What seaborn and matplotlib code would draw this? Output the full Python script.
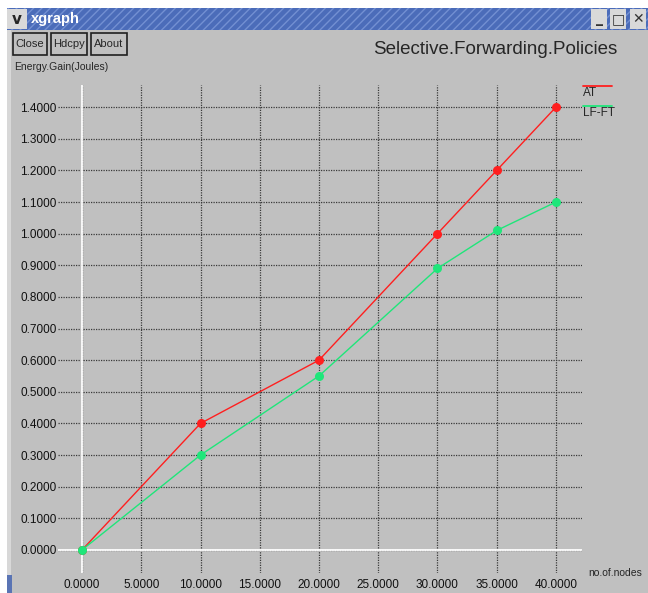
import numpy as np
import pandas as pd
import matplotlib
matplotlib.use("Agg")
import matplotlib.pyplot as plt
from matplotlib.patches import Rectangle
from matplotlib.lines import Line2D
import seaborn as sns

# values
nodes = [0, 10, 20, 30, 35, 40]
gain_at = [0.0, 0.40, 0.60, 1.00, 1.20, 1.40]
gain_lfft = [0.0, 0.30, 0.55, 0.89, 1.01, 1.10]
series_names = ["AT", "LF-FT"]
series_colors = ["#ff1f1f", "#1fe67a"]
x_ticks = [0, 5, 10, 15, 20, 25, 30, 35, 40]
y_ticks = [round(0.1 * i, 1) for i in range(15)]

df = pd.DataFrame({
    "nodes": nodes * 2,
    "gain": gain_at + gain_lfft,
    "policy": [series_names[0]] * len(nodes) + [series_names[1]] * len(nodes),
})

sns.set_style("white")
plt.rcParams["font.family"] = ["Liberation Sans", "DejaVu Sans"]

W, H = 648, 593
fig = plt.figure(figsize=(W / 100, H / 100), dpi=100)
fig.patch.set_facecolor("white")


def fx(x):
    return x / W


def fy(y):
    return 1 - y / H


def box(x0, y0, x1, y1, **kw):
    fig.patches.append(Rectangle((fx(x0), fy(y1)), fx(x1) - fx(x0), fy(y0) - fy(y1),
                                 transform=fig.transFigure, **kw))


# window frame
box(7, 8, 648, 593, facecolor="#c0c0c0", edgecolor="none", zorder=-5)
box(7, 8, 11, 593, facecolor="#d8d8d8", edgecolor="none", zorder=-4)
box(7, 575, 12, 593, facecolor="#5a74b4", edgecolor="none", zorder=-4)
# title bar
box(7, 8, 648, 30, facecolor="#4b6cb9", edgecolor="#7390d2", hatch="////", linewidth=0, zorder=1)
box(7, 9, 27, 29, facecolor="#d9d9d9", edgecolor="none", zorder=2)
fig.text(fx(17), fy(19), "v", ha="center", va="center", fontsize=11, fontweight="bold",
         family="DejaVu Sans", zorder=3)
fig.text(fx(31), fy(19), "xgraph", ha="left", va="center", fontsize=10.5, fontweight="bold",
         color="white", zorder=3)
for x0, glyph in [(591, "_"), (610, "□"), (630, "✕")]:
    box(x0, 9, x0 + 16, 29, facecolor="#d9d9d9", edgecolor="none", zorder=2)
    fig.text(fx(x0 + 8), fy(19), glyph, ha="center", va="center", fontsize=10,
             fontweight="bold", family="DejaVu Sans", color="#333333", zorder=3)

# xgraph buttons
for x0, x1, label in [(13, 47, "Close"), (51, 87, "Hdcpy"), (91, 127, "About")]:
    box(x0, 33, x1, 55, facecolor="#c0c0c0", edgecolor="#202020", linewidth=1.2, zorder=2)
    fig.text(fx((x0 + x1) / 2), fy(44), label, ha="center", va="center", fontsize=8, zorder=3)

fig.text(fx(14), fy(67), "Energy.Gain(Joules)", ha="left", va="center", fontsize=7.5)
fig.text(fx(617), fy(50), "Selective.Forwarding.Policies", ha="right", va="center", fontsize=13.5)

# plot area
ax = fig.add_axes([fx(58), fy(573), fx(582) - fx(58), fy(85) - fy(573)])
ax.set_zorder(5)
ax.set_facecolor("#c0c0c0")
ax.set_xlim(-2.03, 42.2)
ax.set_ylim(-0.073, 1.47)

ax.axhline(0, color="white", lw=1.3, zorder=1)
ax.axvline(0, color="white", lw=1.3, zorder=1)

sns.lineplot(data=df, x="nodes", y="gain", hue="policy",
             palette=dict(zip(series_names, series_colors)),
             marker="o", markersize=6.5, markeredgewidth=0, linewidth=1,
             legend=False, ax=ax, zorder=3)

ax.set_xticks(x_ticks)
ax.set_xticklabels([f"{v:.4f}" for v in x_ticks])
ax.set_yticks(y_ticks)
ax.set_yticklabels([f"{v:.4f}" for v in y_ticks])
ax.tick_params(length=0, labelsize=8.5, colors="#111111")
ax.tick_params(axis="x", pad=4)
ax.tick_params(axis="y", pad=1)
ax.grid(True, color="#3a3a3a", linestyle=(0, (1, 1)), linewidth=0.9, zorder=0)
ax.set_axisbelow(True)
for s in ax.spines.values():
    s.set_visible(False)
ax.set_xlabel("")
ax.set_ylabel("")

# legend drawn like xgraph: short line above each label
for i, (name, col) in enumerate(zip(series_names, series_colors)):
    y = 86 + 20 * i
    fig.lines.append(Line2D([fx(583), fx(612)], [fy(y), fy(y)], color=col, lw=1.3,
                            transform=fig.transFigure))
    fig.text(fx(583), fy(y + 7), name, ha="left", va="center", fontsize=8.5)

fig.text(fx(588), fy(573), "no.of.nodes", ha="left", va="center", fontsize=7.5)

fig.savefig("out.png", dpi=100, facecolor=fig.get_facecolor())
